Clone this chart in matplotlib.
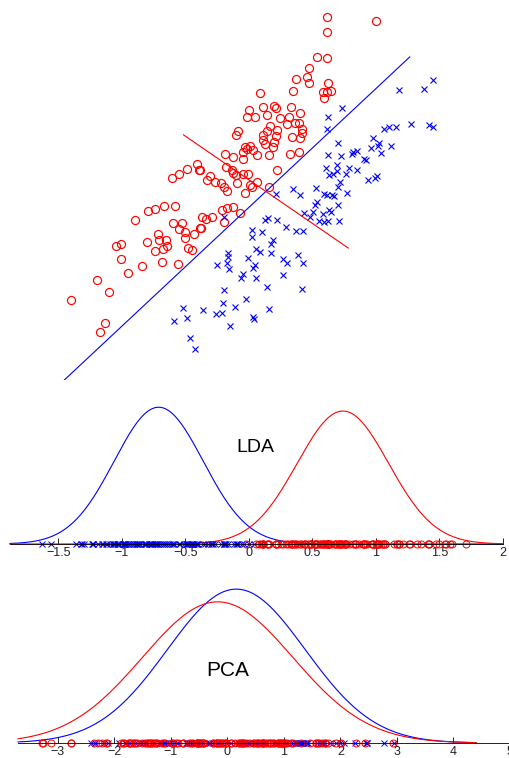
import numpy as np
import matplotlib
matplotlib.use("Agg")
import matplotlib.pyplot as plt
from matplotlib.ticker import FixedLocator, FuncFormatter

plt.rcParams['font.family'] = ['Liberation Sans', 'DejaVu Sans']

# Two-class sample in raw feature units (second feature grows downward)
red_x = [327, 376, 327, 317, 327, 309, 307, 309, 296, 328, 323, 327, 331, 324, 293, 260,
         249, 247, 255, 263, 274, 276, 267, 280, 291, 300, 289, 287, 295, 302, 302, 299,
         238, 236, 270, 267, 263, 277, 276, 263, 274, 265, 273, 292, 300,
         245, 250, 243, 247, 253, 257, 269, 225, 233, 243, 290, 299,
         277, 226, 232, 233, 236, 243, 248, 257, 250, 252, 245, 269, 237,
         210, 207, 215, 221, 224, 227, 200, 197, 199, 187, 179, 172,
         164, 175, 155, 148, 135, 173, 182, 179, 185, 158, 147, 159, 166, 167, 163, 155,
         185, 188, 192, 116, 121, 121, 162, 178, 142, 128, 97, 109, 71, 105, 100,
         194, 201, 202, 206, 212, 222, 227, 233, 240, 224, 200]
red_y = [17, 21, 32, 57, 58, 68, 77, 83, 79, 83, 92, 92, 91, 98, 91, 93,
         110, 117, 117, 107, 106, 108, 115, 118, 107, 113, 117, 124, 123, 129, 133, 123,
         131, 135, 126, 131, 135, 130, 136, 140, 142, 144, 147, 137, 138,
         147, 146, 152, 149, 150, 155, 155, 154, 157, 159, 154, 152,
         170, 167, 170, 173, 175, 174, 174, 182, 185, 187, 193, 187, 183,
         176, 180, 182, 183, 187, 191, 170, 164, 170, 169, 174, 178,
         206, 206, 209, 211, 220, 223, 223, 229, 232, 234, 242, 240, 240, 246, 249, 251,
         238, 248, 250, 246, 244, 259, 262, 264, 266, 273, 280, 292, 300, 323, 332,
         234, 228, 217, 219, 217, 210, 208, 207, 213, 222, 228]

blue_x = [433, 424, 399, 342, 328, 327, 384, 389, 396, 411, 429, 433,
          373, 379, 378, 371, 391, 381, 338, 328, 341, 353, 357, 352, 364, 366,
          326, 337, 337, 349, 357, 329, 333, 346, 340, 368, 377, 375,
          338, 347, 316, 300, 293, 276, 327, 332, 334, 324,
          317, 315, 338, 329, 331, 323, 313, 304, 310, 319, 324, 328, 339,
          224, 268, 265, 277, 286, 296, 303, 252, 252, 262, 273, 271, 271, 256, 260,
          248, 283, 287, 298, 303, 283, 255, 253, 243, 241, 256, 267, 302, 224, 246,
          223, 235, 269, 217, 228, 228, 227, 229, 203, 216, 222, 253, 254, 230,
          183, 174, 187, 190, 195]
blue_y = [80, 89, 90, 108, 117, 129, 129, 127, 127, 124, 125, 127,
          138, 143, 146, 148, 146, 153, 143, 155, 156, 152, 151, 154, 159, 160,
          168, 165, 171, 168, 170, 175, 174, 174, 182, 180, 176, 178,
          187, 193, 188, 195, 189, 194, 195, 195, 196, 194,
          202, 205, 205, 210, 212, 214, 212, 213, 217, 221, 222, 221, 221,
          217, 218, 220, 220, 227, 231, 231, 230, 237, 232, 240, 244, 253, 249, 252,
          258, 259, 263, 255, 263, 275, 265, 268, 274, 278, 278, 287, 289, 290, 299,
          303, 307, 309, 265, 253, 257, 263, 269, 310, 314, 313, 317, 319, 326,
          308, 321, 318, 338, 349]

# Principal axis and Fisher discriminant direction, with drawn extents
pca_dir = [355, -332]
lda_dir = [-166, -114]
pca_extent = [-289, 197]
lda_extent = [-100, 100]

# Class-conditional Gaussians fitted on each projection: (mean, std)
lda_blue = (-0.71, 0.35)
lda_red = (0.74, 0.36)
pca_blue = (0.16, 1.22)
pca_red = (-0.17, 1.33)

lda_ticks = [-1.5, -1, -0.5, 0, 0.5, 1, 1.5, 2]
pca_ticks = [-3, -2, -1, 0, 1, 2, 3, 4, 5]

RED = '#ff0000'
BLUE = '#0000ff'

red_pts = np.column_stack([red_x, red_y]).astype(float)
blue_pts = np.column_stack([blue_x, blue_y]).astype(float)
all_pts = np.vstack([red_pts, blue_pts])
center = all_pts.mean(axis=0)


def unit(v):
    v = np.asarray(v, float)
    return v / np.linalg.norm(v)


def project(direction, g_red, g_blue):
    """Project both classes on a direction, scaled to the pooled moments of the fits."""
    u = unit(direction)
    zr = (red_pts - center) @ u
    zb = (blue_pts - center) @ u
    z = np.concatenate([zr, zb])
    nr, nb = len(zr), len(zb)
    w_r, w_b = nr / (nr + nb), nb / (nr + nb)
    mu = w_r * g_red[0] + w_b * g_blue[0]
    var = (w_r * (g_red[1] ** 2 + g_red[0] ** 2) + w_b * (g_blue[1] ** 2 + g_blue[0] ** 2)) - mu ** 2
    scale = np.sqrt(var) / z.std()
    return (zr - z.mean()) * scale + mu, (zb - z.mean()) * scale + mu


def gauss(x, m, s):
    return np.exp(-0.5 * ((x - m) / s) ** 2) / (s * np.sqrt(2 * np.pi))


W, H = 510, 758
fig = plt.figure(figsize=(W / 100, H / 100), dpi=100)

# --- scatter with the two directions ---
ax0 = fig.add_axes([0, 1 - 380 / H, 1, 380 / H])
ax0.set_xlim(0, 510)
ax0.set_ylim(380, 0)
ax0.axis('off')
ax0.plot(red_x, red_y, 'o', mfc='none', mec=RED, ms=5.8, mew=0.85)
ax0.plot(blue_x, blue_y, 'x', color=BLUE, ms=5, mew=0.8)
for d, ext, c in [(pca_dir, pca_extent, BLUE), (lda_dir, lda_extent, RED)]:
    u = unit(d)
    seg = center + np.outer(ext, u)
    ax0.plot(seg[:, 0], seg[:, 1], color=c, lw=0.8)


def style_axis(ax, ticks):
    for s in ['top', 'left', 'right']:
        ax.spines[s].set_visible(False)
    ax.spines['bottom'].set_linewidth(0.6)
    ax.set_yticks([])
    ax.xaxis.set_major_locator(FixedLocator(ticks))
    ax.xaxis.set_major_formatter(FuncFormatter(lambda v, p: ('%g' % v).replace('-', '\u2212')))
    ax.tick_params(axis='x', direction='in', length=4, width=0.6, labelsize=9,
                   pad=2.5, colors='black', labelcolor='#222222')
    ax.patch.set_visible(False)


# --- LDA projection ---
ax1 = fig.add_axes([10 / W, (H - 544) / H, 493 / W, 144 / H])
ax1.set_xlim(-1.88, 2.0)
ax1.set_ylim(0, 1.2)
style_axis(ax1, lda_ticks)
xs = np.linspace(-1.88, 2.0, 500)
ax1.plot(xs, gauss(xs, *lda_blue), color=BLUE, lw=0.8, clip_on=False)
ax1.plot(xs, gauss(xs, *lda_red), color=RED, lw=0.8, clip_on=False)
lr, lb = project(lda_dir, lda_red, lda_blue)
ax1.plot(lb, np.zeros_like(lb), 'x', color=BLUE, ms=4.5, mew=0.7, clip_on=False)
ax1.plot(lr, np.zeros_like(lr), 'o', mfc='none', mec=RED, ms=5, mew=0.7, clip_on=False)
ax1.text(0.055, 0.80, 'LDA', ha='center', va='center', fontsize=14)

# --- PCA projection ---
ax2 = fig.add_axes([18 / W, 15 / H, 492 / W, 160 / H])
ax2.set_xlim(-3.7, 5.0)
ax2.set_ylim(0, 0.34)
style_axis(ax2, pca_ticks)
xs = np.linspace(-3.7, 4.4, 500)
ax2.plot(xs, gauss(xs, *pca_blue), color=BLUE, lw=0.8, clip_on=False)
ax2.plot(xs, gauss(xs, *pca_red), color=RED, lw=0.8, clip_on=False)
pr, pb = project(pca_dir, pca_red, pca_blue)
ax2.plot(pb, np.zeros_like(pb), 'x', color=BLUE, ms=4.5, mew=0.7, clip_on=False)
ax2.plot(pr, np.zeros_like(pr), 'o', mfc='none', mec=RED, ms=5, mew=0.7, clip_on=False)
ax2.text(0.0, 0.155, 'PCA', ha='center', va='center', fontsize=15)

fig.savefig('out.png', dpi=100)
